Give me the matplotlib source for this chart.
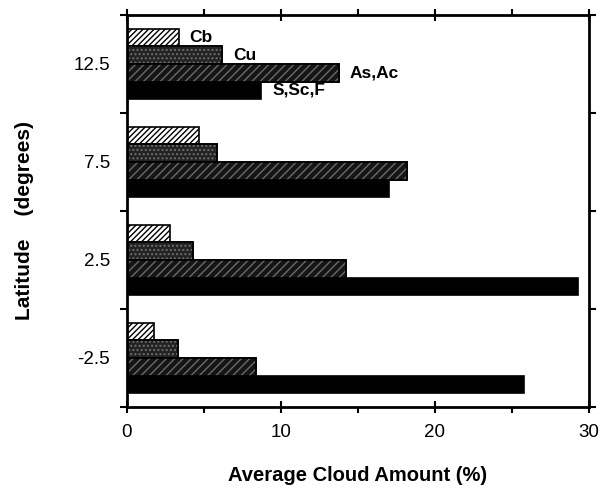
import matplotlib
matplotlib.use("Agg")
import matplotlib.pyplot as plt
import numpy as np

plt.rcParams['font.family'] = ['Liberation Sans', 'DejaVu Sans']
plt.rcParams['hatch.linewidth'] = 1.0

latitudes = [12.5, 7.5, 2.5, -2.5]
cloud_types = ["Cb", "Cu", "As,Ac", "S,Sc,F"]
cb = [3.4, 4.7, 2.8, 1.8]
cu = [6.2, 5.9, 4.3, 3.35]
as_ac = [13.8, 18.2, 14.25, 8.4]
s_sc_f = [8.75, 17.0, 29.3, 25.8]
series = [cb, cu, as_ac, s_sc_f]

fig = plt.figure(figsize=(6.03, 4.90), dpi=100)
ax = fig.add_axes([126.5/603, 1-407/490, (589-126.5)/603, (407-15)/490])

h = 0.9
offsets = [1.5*h, 0.5*h, -0.5*h, -1.5*h]
styles = [
    dict(facecolor='white', edgecolor='black', hatch='//////'),
    dict(facecolor='#222222', edgecolor='black', hatch=None),
    dict(facecolor='#151515', edgecolor='black', hatch=None),
    dict(facecolor='black', edgecolor='black', hatch=None),
]
lat = np.array(latitudes)
for vals, off, st in zip(series, offsets, styles):
    ax.barh(lat + off, vals, height=h, linewidth=1.2, **st)

# fine light texture for Cu (stipple) and As,Ac (diagonal)
for vals, off, hatch, col in [(cu, offsets[1], '....', '#6e6e6e'),
                              (as_ac, offsets[2], '////', '#6a6a6a')]:
    ax.barh(lat + off, vals, height=h, facecolor='none', edgecolor=col,
            hatch=hatch, linewidth=0)
    ax.barh(lat + off, vals, height=h, facecolor='none', edgecolor='black', linewidth=1.2)

# labels for top group
for vals, off, name in zip(series, offsets, cloud_types):
    ax.text(vals[0] + 0.7, latitudes[0] + off, name, fontsize=12.5,
            fontweight='bold', va='center', ha='left')

ax.set_xlim(0, 30)
ax.set_ylim(-5, 15)
ax.set_xticks([0, 10, 20, 30])
ax.set_xticks([5, 15, 25], minor=True)
ax.set_yticks([-5, 0, 5, 10, 15])
ax.set_yticklabels([])
ax.set_yticks(latitudes, minor=True)
ax.set_yticklabels([str(v) for v in latitudes], minor=True)
ax.tick_params(axis='y', which='major', direction='out', length=5, width=1.5,
               left=True, right=True)
ax.tick_params(axis='y', which='minor', length=0, labelsize=13.5, pad=12)
ax.tick_params(axis='x', which='major', direction='inout', length=9, width=1.5,
               top=True, bottom=True, labelsize=13.5, pad=8)
ax.tick_params(axis='x', which='minor', direction='out', length=4, width=1.5,
               top=True, bottom=True)
for s in ax.spines.values():
    s.set_linewidth(2)

ax.set_xlabel('Average Cloud Amount (%)', fontsize=14.5, fontweight='bold', labelpad=18)
ax.set_ylabel('Latitude    (degrees)', fontsize=15, fontweight='bold')
ax.yaxis.set_label_coords(-0.199, 0.475)

fig.savefig('out.png', dpi=100)
